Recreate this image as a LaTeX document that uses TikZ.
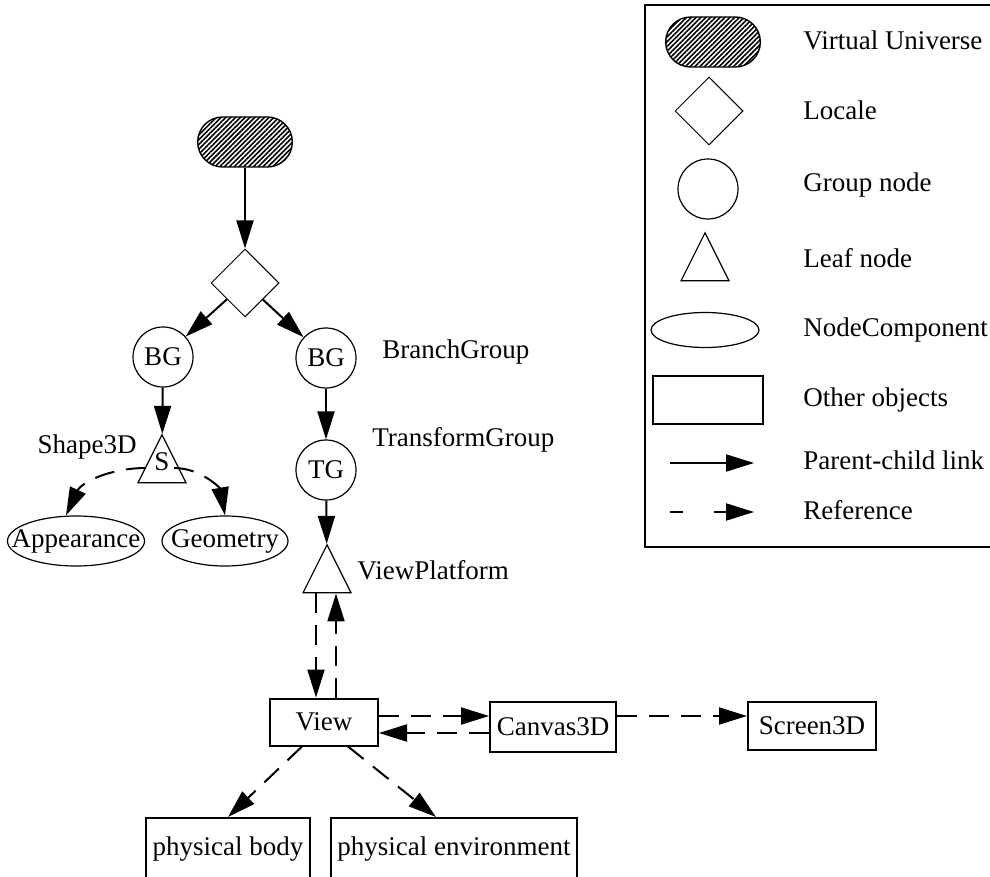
\documentclass[tikz,border=0pt]{standalone}
\usepackage{fontspec}
\setmainfont{Liberation Serif}
\usetikzlibrary{arrows.meta,shapes.geometric,shapes.misc,patterns.meta}
\begin{document}
\begin{tikzpicture}[x=0.5pt,y=-0.5pt,
  every node/.style={font=\fontsize{13.5}{16}\selectfont},
  link/.style={line width=1pt,-{Triangle[length=14pt,width=8.5pt]}},
  ref/.style={link,dash pattern=on 10pt off 6pt},
  universe/.style={rounded rectangle,draw,line width=0.7pt,minimum width=54pt,minimum height=25pt,
    pattern={Lines[angle=45,distance=1.7pt,line width=0.8pt]}},
  locale/.style={diamond,draw,line width=0.5pt,minimum size=34pt,inner sep=0pt},
  group/.style={circle,draw,line width=0.6pt,minimum size=30pt,inner sep=0pt},
  leaf/.style={isosceles triangle,isosceles triangle stretches,shape border rotate=90,draw,
    line width=0.6pt,minimum width=24pt,minimum height=24pt,inner sep=0pt},
  component/.style={ellipse,draw,line width=0.6pt,minimum height=25pt,inner sep=0pt},
  object/.style={rectangle,draw,line width=1pt,minimum height=24pt},
  tag/.style={anchor=west,inner sep=0pt}]
\clip (0,0) rectangle (990,877);
% scene graph
\node[universe] (uni) at (245,142) {};
\node[locale] (loc) at (245,283) {};
\node[group] (bgl) at (163,357) {BG};
\node[group] (bgr) at (326,358) {BG};
\node[leaf] (s) at (162,468) {};
\node (stxt) at (162,462) {S};
\node[component,minimum width=68.5pt] (app) at (76,541) {};
\node (apptxt) at (app) {Appearance};
\node[component,minimum width=63pt] (geo) at (225,541) {};
\node (geotxt) at (geo) {Geometry};
\node[group] (tg) at (326,470) {TG};
\node[leaf] (vp) at (327,578) {};
\node[object,minimum width=54pt,minimum height=23.5pt] (view) at (324,722) {View};
\node[object,minimum width=59pt,minimum height=25pt] (canvas) at (553,727) {Canvas3D};
\node[object,minimum width=64pt] (screen) at (812,726) {Screen3D};
\node[object,minimum width=81.5pt,minimum height=31pt] (body) at (228,849) {physical body};
\node[object,minimum width=121pt,minimum height=31pt] (env) at (454,849) {physical environment};
\node[tag,anchor=east] (shapelbl) at (137,447) {Shape3D};
\node[tag] (bglbl) at (382,352) {BranchGroup};
\node[tag] (tglbl) at (372,440) {TransformGroup};
\node[tag] (vplbl) at (357,570) {ViewPlatform};
\draw[link] (uni) -- (loc);
\draw[link] (loc) -- (bgl);
\draw[link] (loc) -- (bgr);
\draw[link] (bgl) -- (s);
\draw[link] (bgr) -- (tg);
\draw[link] (tg) -- (vp);
\draw[ref] ([xshift=-8pt]s.center) to[out=180,in=65] ([xshift=-5pt]app.north);
\draw[ref] ([xshift=6pt]s.center) to[out=0,in=100] (geo.north);
\draw[ref] ([xshift=-5.5pt]vp.south) -- ([xshift=-4pt]view.north);
\draw[ref] ([xshift=6pt]view.north) -- ([xshift=4.5pt]vp.south);
\draw[ref] ([yshift=3pt]view.east) -- ([yshift=5.5pt]canvas.west);
\draw[ref] ([yshift=-3pt]canvas.west) -- ([yshift=-5.5pt]view.east);
\draw[ref] ([yshift=5.5pt]canvas.east) -- ([yshift=5pt]screen.west);
\draw[ref] ([xshift=-11pt]view.south) -- (body.north);
\draw[ref] ([xshift=12pt]view.south) -- ([xshift=-9pt]env.north);
% legend
\draw[line width=1.2pt] (645,5) rectangle (1000,547);
\node[universe] (kuni) at (713,42) {};
\node[locale] (kloc) at (709,111) {};
\node[group] (kgrp) at (708,189) {};
\node[leaf] (kleaf) at (705,266) {};
\node[component,minimum width=54pt,minimum height=17.5pt] (kcomp) at (705,330) {};
\node[object,minimum width=55pt] (kobj) at (708,400) {};
\coordinate (ka) at (670,463);
\coordinate (kb) at (754,463);
\coordinate (kc) at (670,512);
\coordinate (kd) at (754,512);
\draw[link] (ka) -- (kb);
\draw[link,dash pattern=on 6.5pt off 15.5pt on 20pt off 0pt] (kc) -- (kd);
\node[tag] (tuni) at (803,40) {Virtual Universe};
\node[tag] (tloc) at (803,110) {Locale};
\node[tag] (tgrp) at (803,185) {Group node};
\node[tag] (tleaf) at (803,258) {Leaf node};
\node[tag] (tcomp) at (803,330) {NodeComponent};
\node[tag] (tobj) at (803,400) {Other objects};
\node[tag] (tlink) at (803,460) {Parent-child link};
\node[tag] (tref) at (803,510) {Reference};
\end{tikzpicture}
\end{document}
